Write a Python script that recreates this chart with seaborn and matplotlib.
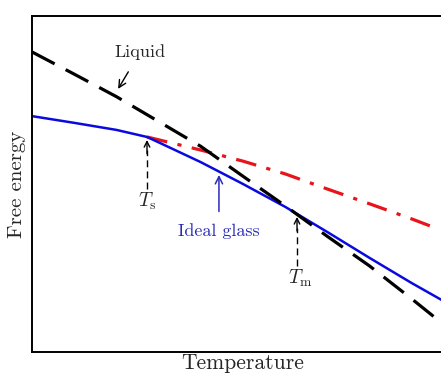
import numpy as np
import pandas as pd
import matplotlib
matplotlib.use("Agg")
import matplotlib.pyplot as plt
import seaborn as sns

# ---- data (arbitrary units) ----
liquid_T = [0.0, 1.0, 2.0, 3.0, 4.0, 5.0, 6.0, 7.0, 8.0, 9.0, 10.0]
liquid_G = [8.93, 8.27, 7.60, 6.86, 6.12, 5.23, 4.35, 3.44, 2.56, 1.58, 0.57]

glass_T = [0.0, 1.0, 2.0, 2.725, 3.0, 4.0, 5.0, 6.0, 7.0, 8.0, 9.0, 10.0]
glass_G = [7.02, 6.82, 6.61, 6.40, 6.24, 5.65, 5.00, 4.32, 3.57, 2.80, 2.05, 1.34]

super_T = [2.725, 4.0, 5.0, 6.0, 7.0, 8.0, 9.0, 9.5]
super_G = [6.40, 6.01, 5.68, 5.30, 4.85, 4.41, 3.96, 3.72]

Ts_T, Tm_T = 2.725, 6.28
labels = {"liquid": "Liquid", "glass": "Ideal glass", "xlabel": "Temperature",
          "ylabel": "Free energy", "Ts": r"$T_{\rm s}$", "Tm": r"$T_{\rm m}$"}

sns.set_style("white")
plt.rcParams["font.family"] = ["cmr10", "DejaVu Serif"]
plt.rcParams["mathtext.fontset"] = "cm"
plt.rcParams["axes.formatter.use_mathtext"] = True

fig = plt.figure(figsize=(4.41, 3.74), dpi=100)
ax = fig.add_axes([32/441, 1-352/374, (454-32)/441, (352-16)/374])

BLUE = "#0a0ae0"
RED = "#e8141c"

df_l = pd.DataFrame({"T": liquid_T, "G": liquid_G})
df_g = pd.DataFrame({"T": glass_T, "G": glass_G})
df_s = pd.DataFrame({"T": super_T, "G": super_G})

sns.lineplot(data=df_s, x="T", y="G", ax=ax, color=RED, lw=2.3,
             linestyle=(0, (6.5, 3.3, 1.3, 3.3)), estimator=None, sort=False)
sns.lineplot(data=df_g, x="T", y="G", ax=ax, color=BLUE, lw=1.8,
             estimator=None, sort=False)
sns.lineplot(data=df_l, x="T", y="G", ax=ax, color="black", lw=2.3,
             linestyle=(0, (8.0, 3.9)), estimator=None, sort=False)

ax.set_xlim(0, 10)
ax.set_ylim(0, 10)
ax.set_xticks([])
ax.set_yticks([])
for s in ax.spines.values():
    s.set_color("black")
    s.set_linewidth(1.4)

ax.set_xlabel(labels["xlabel"], fontsize=15.5, labelpad=1)
ax.set_ylabel(labels["ylabel"], fontsize=15, labelpad=4)

# Liquid annotation
ax.annotate(labels["liquid"], xy=(2.04, 7.83), xytext=(2.56, 8.92),
            ha="center", va="center", fontsize=13,
            arrowprops=dict(arrowstyle="->", lw=1.0, color="black",
                            shrinkA=7, shrinkB=0))

# Ts marker
ax.plot([Ts_T, Ts_T], [4.85, 6.0], color="black", lw=1.0, dashes=(5, 3))
ax.annotate("", xy=(Ts_T, 6.31), xytext=(Ts_T, 5.9),
            arrowprops=dict(arrowstyle="->", lw=1.0, color="black", shrinkA=0, shrinkB=0))
ax.text(Ts_T, 4.48, labels["Ts"], ha="center", va="center", fontsize=14)

# Tm marker
ax.plot([Tm_T, Tm_T], [2.55, 3.7], color="black", lw=1.0, dashes=(5, 3))
ax.annotate("", xy=(Tm_T, 4.02), xytext=(Tm_T, 3.6),
            arrowprops=dict(arrowstyle="->", lw=1.0, color="black", shrinkA=0, shrinkB=0))
ax.text(Tm_T + 0.08, 2.20, labels["Tm"], ha="center", va="center", fontsize=14)

# Ideal glass annotation
ax.annotate(labels["glass"], xy=(4.43, 5.27), xytext=(4.43, 3.60),
            ha="center", va="center", fontsize=13, color="#2a2ab8",
            arrowprops=dict(arrowstyle="->", lw=1.1, color="#2a2ab8",
                            shrinkA=6, shrinkB=0))

fig.savefig("out.png", dpi=100)
